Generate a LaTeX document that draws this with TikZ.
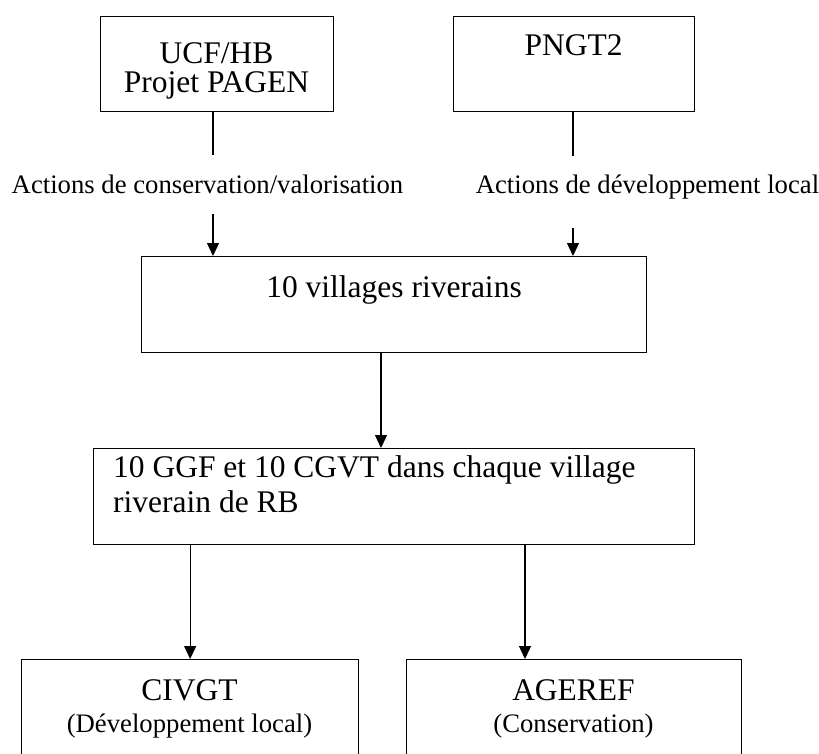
\documentclass[tikz,border=0pt]{standalone}
\usepackage{fontspec}
\setmainfont{Liberation Serif}
\usetikzlibrary{arrows.meta}
\tikzset{
  boxnode/.style={draw, line width=1.3pt, inner sep=0pt, anchor=north west},
  bigtext/.style={font=\fontsize{31.5}{35}\selectfont, inner sep=0pt, anchor=base},
  smalltext/.style={font=\fontsize{26.7}{30}\selectfont, inner sep=0pt, anchor=base},
  arr/.style={-{Triangle[length=13pt,width=12pt]}, line width=1.3pt},
  plainline/.style={line width=1.3pt}
}
\begin{document}
\begin{tikzpicture}[x=1pt,y=-1pt]
\useasboundingbox (0,0) rectangle (819,753);
\clip (0,0) rectangle (819,753);
% boxes
\node[boxnode, minimum width=233pt, minimum height=95pt] (ucf) at (100,16) {};
\node[boxnode, minimum width=241pt, minimum height=95pt] (pngt) at (453,16) {};
\node[boxnode, minimum width=505pt, minimum height=96pt] (vil) at (141,256) {};
\node[boxnode, minimum width=601pt, minimum height=96pt] (ggf) at (93,448) {};
\node[boxnode, minimum width=337pt, minimum height=130pt] (civ) at (21,659) {};
\node[boxnode, minimum width=335pt, minimum height=130pt] (age) at (406,659) {};
% texts
\node[bigtext] (t1a) at (216.5,63) {UCF/HB};
\node[bigtext] (t1b) at (216.5,92.5) {Projet PAGEN};
\node[bigtext] (t2) at (573.5,55) {PNGT2};
\node[smalltext] (lab1) at (207.5,193) {Actions de conservation/valorisation};
\node[smalltext] (lab2) at (647.5,193) {Actions de développement local};
\node[bigtext] (t3) at (394,297) {10 villages riverains};
\node[bigtext, anchor=base west] (t4a) at (113,477) {10 GGF et 10 CGVT dans chaque village};
\node[bigtext, anchor=base west] (t4b) at (113,512) {riverain de RB};
\node[bigtext] (t5a) at (189.5,700) {CIVGT};
\node[smalltext] (t5b) at (189.5,732) {(Développement local)};
\node[bigtext] (t6a) at (573.5,700) {AGEREF};
\node[smalltext] (t6b) at (573.5,732) {(Conservation)};
% connector points
\coordinate (c1a) at (213,155);
\coordinate (c1b) at (213,214);
\coordinate (c2a) at (573,156);
\coordinate (c2b) at (573,228);
\coordinate (c3) at (381,400);
\coordinate (c5) at (525,600);
% connectors
\draw[plainline] (ucf.south -| c1a) -- (c1a);
\draw[arr] (c1b) -- (vil.north -| c1b);
\draw[plainline] (pngt.south -| c2a) -- (c2a);
\draw[arr] (c2b) -- (vil.north -| c2b);
\draw[arr] (vil.south -| c3) -- (ggf.north -| c3);
\draw[arr] (ggf.south -| civ.north) -- (civ.north);
\draw[arr] (ggf.south -| c5) -- (age.north -| c5);
\end{tikzpicture}
\end{document}
